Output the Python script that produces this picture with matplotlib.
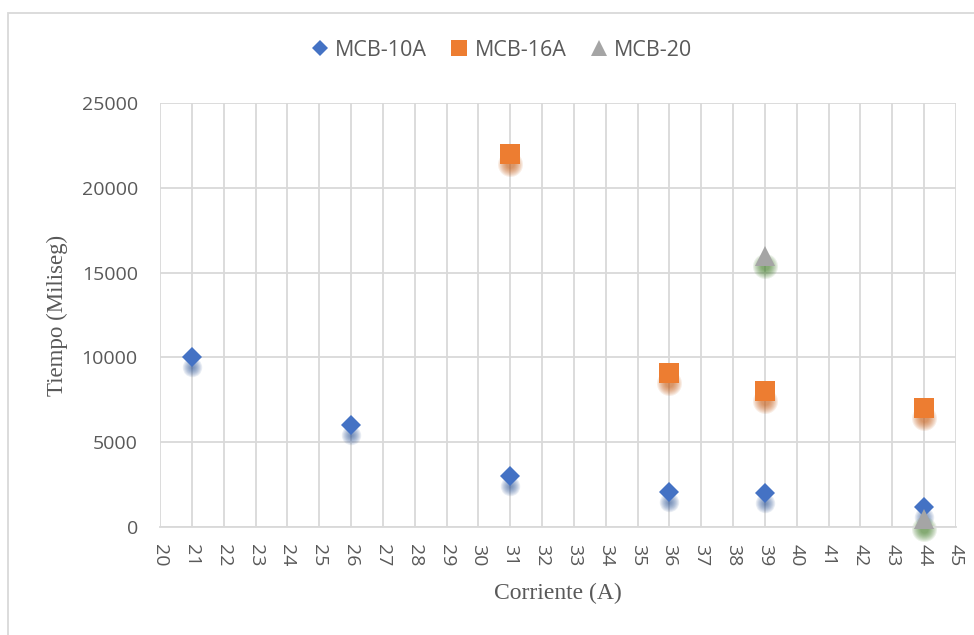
import matplotlib.pyplot as plt
import matplotlib.transforms as mtransforms
from matplotlib.patches import Rectangle

# corriente (A) vs tiempo de disparo (ms) por breaker
x_10a = [21, 26, 31, 36, 39, 44]
y_10a = [10000, 6000, 3000, 2050, 2000, 1200]
x_16a = [31, 36, 39, 44]
y_16a = [22000, 9100, 8000, 7000]
x_20 = [39, 44]
y_20 = [16000, 500]

x_ticks = list(range(20, 46))
y_ticks = [0, 5000, 10000, 15000, 20000, 25000]

series = [
    ("MCB-10A", x_10a, y_10a, "D", 10, "#4472c4", "#2f5597"),
    ("MCB-16A", x_16a, y_16a, "s", 14, "#ed7d31", "#c55a11"),
    ("MCB-20", x_20, y_20, "^", 14, "#a5a5a5", "#3f7a25"),
]

fig = plt.figure(figsize=(9.74, 6.35), dpi=100)
ax = fig.add_axes([0.1643, 0.170, 0.8172, 0.668])

# soft drop shadow under each marker: stacked translucent blobs
shadow_tr = mtransforms.offset_copy(ax.transData, fig=fig, x=0, y=-10, units="dots")
for name, xs, ys, mk, ms, col, scol in series:
    for k in range(9):
        size = ms + 4 - k * 1.5
        ax.plot(xs, ys, linestyle="none", marker="o", markersize=size,
                color=scol, markeredgewidth=0, alpha=0.1, transform=shadow_tr,
                zorder=2, clip_on=False)

handles = []
for name, xs, ys, mk, ms, col, scol in series:
    h, = ax.plot(xs, ys, linestyle="none", marker=mk, markersize=ms,
                 color=col, markeredgewidth=0, zorder=3, clip_on=False, label=name)
    handles.append(h)

ax.set_xlim(20, 45)
ax.set_ylim(0, 25000)
ax.set_xticks(x_ticks)
ax.set_yticks(y_ticks)
ax.set_xticklabels([str(t) for t in x_ticks], rotation=-90, fontsize=14,
                   family="Open Sans", color="#595959")
ax.set_yticklabels([str(t) for t in y_ticks], fontsize=14,
                   family="Open Sans", color="#595959")
ax.tick_params(length=0, pad=12)
ax.tick_params(axis="y", pad=16)
ax.grid(True, color="#d9d9d9", linewidth=1.3)
ax.set_axisbelow(True)
for s in ["left", "right", "top"]:
    ax.spines[s].set_visible(False)
ax.spines["bottom"].set_color("#d9d9d9")
ax.spines["bottom"].set_linewidth(1.3)

ax.set_xlabel("Corriente (A)", fontsize=17, family="Liberation Serif",
              color="#595959", labelpad=12)
ax.set_ylabel("Tiempo (Miliseg)", fontsize=16.5, family="Liberation Serif",
              color="#595959", labelpad=10)

leg = fig.legend(handles=handles, loc="center", bbox_to_anchor=(0.515, 0.921),
                 ncol=3, frameon=False, handlelength=0.8,
                 handletextpad=0.3, columnspacing=1.1,
                 prop={"family": "Open Sans", "size": 15.5})
for t in leg.get_texts():
    t.set_color("#595959")
for lh in leg.legend_handles:
    lh.set_markersize(lh.get_markersize() * 0.8)

# chart border
fig.patches.append(Rectangle((8 / 974, -0.1), 1.2, 1 - 13 / 635 + 0.1,
                             transform=fig.transFigure, fill=False,
                             edgecolor="#d9d9d9", linewidth=1.3))

fig.savefig("out.png", dpi=100)
